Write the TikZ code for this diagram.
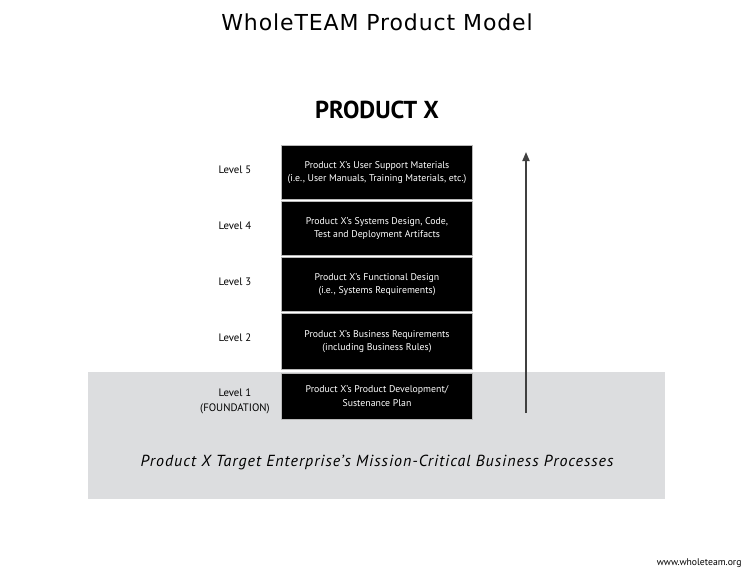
\documentclass[tikz,border=0pt]{standalone}
\usepackage{fontspec}
\setmainfont{PT Sans}
\newfontfamily\titlefont{DejaVu Sans}
\usetikzlibrary{arrows.meta}
\definecolor{basegrey}{RGB}{220,221,223}
\definecolor{shaftgrey}{RGB}{64,64,64}
\tikzset{
    layer/.style={draw=gray!55, fill=black, line width=0.8pt, text=white,
                  minimum width=191pt, minimum height=54pt, inner sep=2pt,
                  align=center, font=\fontsize{9.8}{13.5}\selectfont},
    levellabel/.style={align=center, font=\fontsize{10.8}{15}\selectfont},
    rise/.style={-{Triangle[length=9pt, width=7pt]}, draw=shaftgrey,
                 line width=1.8pt},
}
\newcommand{\productcanvas}{
    \path[use as bounding box] (0,0) rectangle (754,574);
}

\begin{document}
\begin{tikzpicture}[x=1pt, y=-1pt]
    \productcanvas

    \node[font=\titlefont\fontsize{22}{25}\selectfont\addfontfeature{LetterSpace=4}] (title) at (377,22) {WholeTEAM Product Model};
    \node[font=\bfseries\fontsize{24.5}{28}\selectfont] (product) at (377,110) {PRODUCT X};

    % foundation panel
    \fill[basegrey] (88,372) rectangle (665,499);
    \node[font=\itshape\fontsize{16}{18}\selectfont\addfontfeature{LetterSpace=6}] (processes) at (377,462)
        {Product X Target Enterprise's Mission-Critical Business Processes};

    % stack of levels
    \node[layer] (lvfive) at (377,172.5) {Product X's User Support Materials\\(i.e., User Manuals, Training Materials, etc.)};
    \node[layer] (lvfour) at (377,228.5) {Product X's Systems Design, Code,\\Test and Deployment Artifacts};
    \node[layer] (lvthree) at (377,284.5) {Product X's Functional Design\\(i.e., Systems Requirements)};
    \node[layer, minimum height=56pt] (lvtwo) at (377,341.5) {Product X's Business Requirements\\(including Business Rules)};
    \node[layer, minimum height=46pt] (lvone) at (377,396) {Product X's Product Development/\\Sustenance Plan};

    \node[levellabel] (labfive) at (235,170) {Level 5};
    \node[levellabel] (labfour) at (235,226) {Level 4};
    \node[levellabel] (labthree) at (235,282) {Level 3};
    \node[levellabel] (labtwo) at (235,338) {Level 2};
    \node[levellabel] (labone) at (235,401) {Level 1\\(FOUNDATION)};

    \coordinate (risebottom) at (526,413);
    \coordinate (risetop) at (526,152);
    \draw[rise] (risebottom) -- (risetop);

    \node[anchor=east, font=\fontsize{9.7}{11}\selectfont] (site) at (745,563) {www.wholeteam.org};

\end{tikzpicture}
\end{document}
